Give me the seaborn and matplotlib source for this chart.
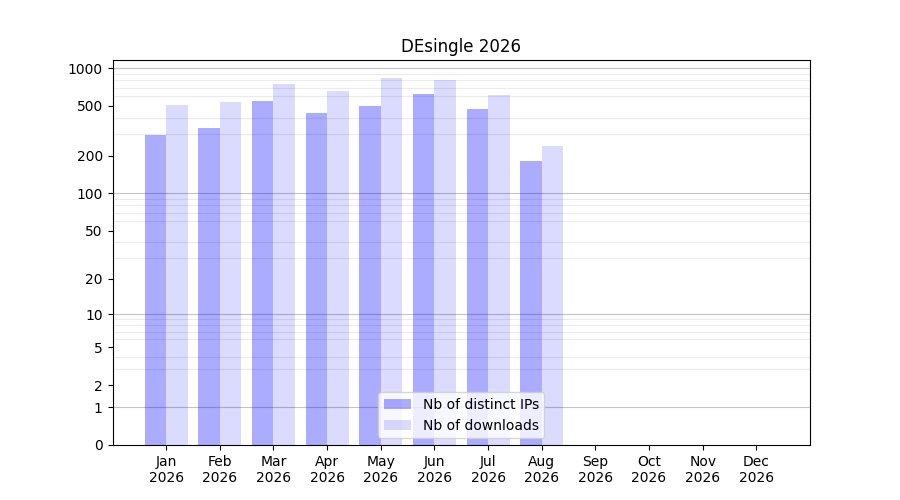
import numpy as np
import pandas as pd
import matplotlib
matplotlib.use("Agg")
import matplotlib.pyplot as plt
import matplotlib.ticker as mticker
import seaborn as sns

# monthly stats
months = ["Jan\n2026", "Feb\n2026", "Mar\n2026", "Apr\n2026", "May\n2026", "Jun\n2026",
          "Jul\n2026", "Aug\n2026", "Sep\n2026", "Oct\n2026", "Nov\n2026", "Dec\n2026"]
distinct_ips = [292, 332, 545, 437, 497, 619, 470, 181]
downloads = [506, 535, 744, 654, 831, 801, 608, 238]
series_names = ["Nb of distinct IPs", "Nb of downloads"]

# long table for seaborn
df = pd.DataFrame({
    "month": months[:len(distinct_ips)] * 2,
    "value": distinct_ips + downloads,
    "series": [series_names[0]] * len(distinct_ips) + [series_names[1]] * len(downloads),
})

fig, ax = plt.subplots(figsize=(9, 5), dpi=100)

sns.barplot(data=df, x="month", y="value", hue="series", order=months,
            hue_order=series_names, palette=["blue", "blue"], saturation=1,
            width=0.8, legend=False, ax=ax, errorbar=None)

# transparency per series
for cont, a in zip(ax.containers, [0.33, 0.14]):
    for p in cont:
        p.set_alpha(a)
        p.set_edgecolor("none")


def fwd(x):
    return np.log10(1 + np.clip(x, 0, None))


def inv(y):
    return 10 ** y - 1


ax.set_yscale("function", functions=(fwd, inv))
ax.set_ylim(0, inv(fwd(max(downloads)) * 1.05))
ax.set_xlim(-1, 12)

# ticks and grid
ax.yaxis.set_major_locator(mticker.FixedLocator([0, 1, 2, 5, 10, 20, 50, 100, 200, 500, 1000]))
ax.yaxis.set_major_formatter(mticker.FuncFormatter(lambda v, pos: f"{int(round(v))}"))
minor = [k * 10 ** n for n in range(0, 4) for k in range(2, 10) if k * 10 ** n < 1000]
ax.yaxis.set_minor_locator(mticker.FixedLocator(minor))
ax.yaxis.set_minor_formatter(mticker.NullFormatter())
ax.tick_params(axis="y", which="minor", length=0)
ax.set_axisbelow(True)
ax.grid(axis="y", which="minor", color="#ebebeb", linewidth=0.8)
for d in [1, 10, 100, 1000]:
    ax.axhline(d, color="#c4c4c4", linewidth=0.8, zorder=0.5)

ax.set_xlabel("")
ax.set_ylabel("")
ax.set_title("DEsingle 2026")
ax.legend(ax.containers, series_names, loc="lower center")

fig.savefig("out.png")
